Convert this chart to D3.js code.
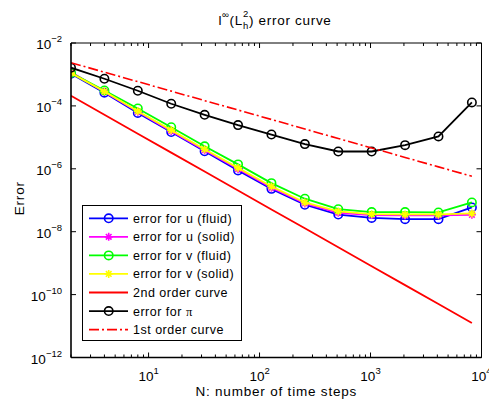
<!DOCTYPE html>
<html>
  <head>
    <meta charset="utf-8">
    <script src="https://d3js.org/d3.v7.min.js"></script>
    <title>error curve</title>
    <style>
      body { margin: 0; background: #fff; }
      text { font-family: "Liberation Sans", Arial, sans-serif; fill: #000; }
    </style>
  </head>
  <body>
    <div id="chart"></div>
    <script>
      // number of time steps
      const steps = [2, 4, 8, 16, 32, 64, 128, 256, 512, 1024, 2048, 4096, 8192];

      // error values
      const uFluid = [1.05e-3, 2.63e-4, 6.0e-5, 1.48e-5, 3.6e-6, 8.9e-7, 2.3e-7, 7.2e-8, 3.5e-8, 2.75e-8, 2.5e-8, 2.5e-8, 5.9e-8];
      const uSolid = [1.2e-3, 2.75e-4, 6.5e-5, 1.58e-5, 3.9e-6, 9.8e-7, 2.5e-7, 7.9e-8, 4.0e-8, 3.4e-8, 3.3e-8, 3.3e-8, 3.45e-8];
      const vFluid = [1.12e-3, 3.1e-4, 8.3e-5, 2.1e-5, 5.2e-6, 1.38e-6, 3.5e-7, 1.12e-7, 5.2e-8, 4.2e-8, 4.2e-8, 4.1e-8, 8.5e-8];
      const vSolid = [1.1e-3, 2.9e-4, 6.8e-5, 1.7e-5, 4.2e-6, 1.07e-6, 2.75e-7, 8.5e-8, 4.4e-8, 3.6e-8, 3.55e-8, 3.55e-8, 3.8e-8];
      const secondOrder = [2.09e-4, 5.2e-5, 1.3e-5, 3.27e-6, 8.2e-7, 2.04e-7, 5.1e-8, 1.28e-8, 3.2e-9, 8.0e-10, 2.0e-10, 5.0e-11, 1.25e-11];
      const piErr = [1.64e-3, 7.3e-4, 3.03e-4, 1.17e-4, 5.2e-5, 2.45e-5, 1.23e-5, 6.1e-6, 3.55e-6, 3.55e-6, 5.65e-6, 1.07e-5, 1.29e-4];
      const firstOrder = [2.36e-3, 1.18e-3, 5.9e-4, 2.95e-4, 1.47e-4, 7.4e-5, 3.7e-5, 1.84e-5, 9.2e-6, 4.6e-6, 2.3e-6, 1.15e-6, 5.8e-7];

      const legendLabels = ["error for u (fluid)", "error for u (solid)", "error for v (fluid)",
        "error for v (solid)", "2nd order curve", "error for \u03c0", "1st order curve"];

      const xTicks = [10, 100, 1000, 10000];
      const xTickExp = ["1", "2", "3", "4"];
      const yTicks = [1e-2, 1e-4, 1e-6, 1e-8, 1e-10, 1e-12];
      const yTickExp = ["\u22122", "\u22124", "\u22126", "\u22128", "\u221210", "\u221212"];

      const W = 489, H = 401;
      const L = 71, R = 481.5, T = 43, B = 357.5;

      const series = [
        { values: uFluid, color: "#0000ff", marker: "circle", dash: null },
        { values: uSolid, color: "#ff00ff", marker: "star", dash: null },
        { values: vFluid, color: "#00ff00", marker: "circle", dash: null },
        { values: vSolid, color: "#ffff00", marker: "star", dash: null },
        { values: secondOrder, color: "#ff0000", marker: null, dash: null },
        { values: piErr, color: "#000000", marker: "circle", dash: null },
        { values: firstOrder, color: "#ff0000", marker: null, dash: "10,3,2,3" }
      ];

      const svg = d3.select("#chart").append("svg")
        .attr("width", W).attr("height", H);

      const x = d3.scaleLog().domain([2, 10000]).range([L, R]);
      const y = d3.scaleLog().domain([1e-12, 1e-2]).range([B, T]);

      // clip for data
      svg.append("clipPath").attr("id", "plotclip")
        .append("rect").attr("x", L).attr("y", T).attr("width", R - L).attr("height", B - T);

      // star marker (MATLAB '*')
      function starPath() {
        const r = 4;
        let p = "";
        for (let k = 0; k < 4; k++) {
          const a = k * Math.PI / 4;
          const dx = r * Math.cos(a), dy = r * Math.sin(a);
          p += `M${-dx},${-dy}L${dx},${dy}`;
        }
        return p;
      }

      function drawMarker(g, type, color, cx, cy) {
        if (type === "circle") {
          g.append("circle").attr("cx", cx).attr("cy", cy).attr("r", 4.2)
            .attr("fill", "none").attr("stroke", color).attr("stroke-width", 1.6);
        } else if (type === "star") {
          g.append("path").attr("d", starPath())
            .attr("transform", `translate(${cx},${cy})`)
            .attr("fill", "none").attr("stroke", color).attr("stroke-width", 1.6);
        }
      }

      const line = d3.line().x((d, i) => x(steps[i])).y(d => y(d));

      const plot = svg.append("g").attr("clip-path", "url(#plotclip)");
      series.forEach(s => {
        const g = plot.append("g");
        g.append("path").datum(s.values)
          .attr("d", line)
          .attr("fill", "none")
          .attr("stroke", s.color)
          .attr("stroke-width", s.dash ? 1.6 : 1.8)
          .attr("stroke-dasharray", s.dash);
        if (s.marker) {
          s.values.forEach((v, i) => drawMarker(g, s.marker, s.color, x(steps[i]), y(v)));
        }
      });

      // box
      const ax = svg.append("g").attr("stroke", "#000").attr("fill", "none");
      ax.append("line").attr("x1", L).attr("x2", R).attr("y1", T).attr("y2", T).attr("stroke-width", 1);
      ax.append("line").attr("x1", R).attr("x2", R).attr("y1", T).attr("y2", B).attr("stroke-width", 1);
      ax.append("line").attr("x1", L).attr("x2", R).attr("y1", B).attr("y2", B).attr("stroke-width", 1.6);
      ax.append("line").attr("x1", L).attr("x2", L).attr("y1", T).attr("y2", B).attr("stroke-width", 1.6);

      // x ticks (major + minor), inward on bottom and top
      const xMinor = [];
      for (let d = 1; d <= 1000; d *= 10) {
        for (let m = 1; m <= 9; m++) {
          const v = d * m;
          if (v >= 2 && v <= 10000 && !xTicks.includes(v)) xMinor.push(v);
        }
      }
      xMinor.forEach(v => {
        ax.append("line").attr("x1", x(v)).attr("x2", x(v)).attr("y1", B).attr("y2", B - 3);
        ax.append("line").attr("x1", x(v)).attr("x2", x(v)).attr("y1", T).attr("y2", T + 3);
      });
      xTicks.forEach(v => {
        ax.append("line").attr("x1", x(v)).attr("x2", x(v)).attr("y1", B).attr("y2", B - 5);
        ax.append("line").attr("x1", x(v)).attr("x2", x(v)).attr("y1", T).attr("y2", T + 5);
      });
      yTicks.forEach(v => {
        ax.append("line").attr("x1", L).attr("x2", L + 5).attr("y1", y(v)).attr("y2", y(v));
        ax.append("line").attr("x1", R).attr("x2", R - 5).attr("y1", y(v)).attr("y2", y(v));
      });

      // x tick labels
      xTicks.forEach((v, i) => {
        const t = svg.append("text").attr("x", x(v)).attr("y", 381)
          .attr("text-anchor", "middle").style("font-size", "13.5px").text("10");
        t.append("tspan").attr("dy", -7).style("font-size", "9.5px").text(xTickExp[i]);
      });

      // y tick labels
      yTicks.forEach((v, i) => {
        const t = svg.append("text").attr("x", 62).attr("y", y(v) + 6)
          .attr("text-anchor", "end").style("font-size", "13.5px").text("10");
        t.append("tspan").attr("dy", -7).style("font-size", "9.5px").text(yTickExp[i]);
      });

      // axis labels
      svg.append("text").attr("x", (L + R) / 2).attr("y", 396)
        .attr("text-anchor", "middle").style("font-size", "13.5px").style("letter-spacing", "0.8px")
        .text("N: number of time steps");
      svg.append("text").attr("transform", `translate(24,${(T + B) / 2 - 2}) rotate(-90)`)
        .attr("text-anchor", "middle").style("font-size", "13.5px").style("letter-spacing", "0.8px")
        .text("Error");

      // title
      const title = svg.append("text").attr("x", 275).attr("y", 25)
        .attr("text-anchor", "middle").style("font-size", "13.5px").style("letter-spacing", "0.7px");
      title.append("tspan").text("l");
      title.append("tspan").attr("dy", -7).style("font-size", "9.5px").text("\u221e");
      title.append("tspan").attr("dy", 7).text("(L");
      title.append("tspan").attr("dy", -8).style("font-size", "9.5px").text("2");
      title.append("tspan").attr("dx", -6).attr("dy", 12).style("font-size", "9.5px").text("h");
      title.append("tspan").attr("dy", -4).text(") error curve");

      // legend
      const lg = svg.append("g");
      lg.append("rect").attr("x", 82.5).attr("y", 205.5).attr("width", 159).attr("height", 135)
        .attr("fill", "#fff").attr("stroke", "#000").attr("stroke-width", 1);
      series.forEach((s, i) => {
        const cy = 218.3 + i * 18.55;
        lg.append("line").attr("x1", 89).attr("x2", 128).attr("y1", cy).attr("y2", cy)
          .attr("stroke", s.color).attr("stroke-width", s.dash ? 1.6 : 1.8)
          .attr("stroke-dasharray", s.dash);
        if (s.marker) drawMarker(lg, s.marker, s.color, 108.7, cy);
        const t = lg.append("text").attr("x", 133).attr("y", cy + 4.5)
          .style("font-size", "12.5px").style("letter-spacing", "0.5px");
        const label = legendLabels[i];
        if (label.includes("\u03c0")) {
          t.text(label.replace("\u03c0", ""));
          t.append("tspan").style("font-family", "'Liberation Serif', serif").text("\u03c0");
        } else {
          t.text(label);
        }
      });
    </script>
  </body>
</html>
